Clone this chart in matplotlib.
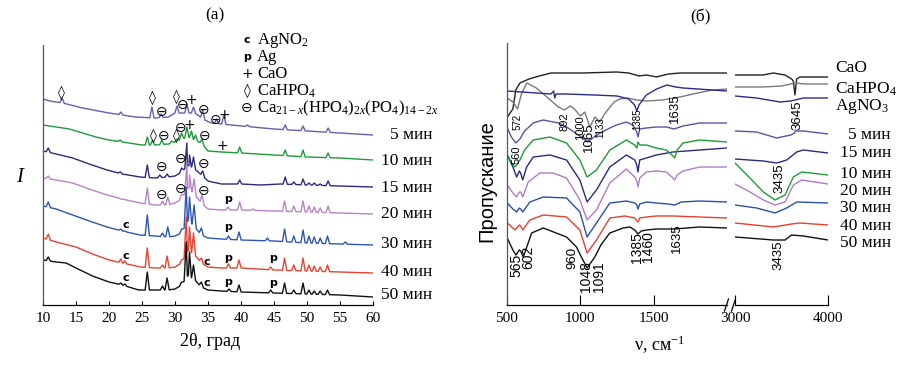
import numpy as np
import matplotlib
matplotlib.use('Agg')
import matplotlib.pyplot as plt
from matplotlib.lines import Line2D

plt.rcParams['font.family'] = ['Liberation Serif', 'DejaVu Sans']
plt.rcParams['mathtext.fontset'] = 'custom'
plt.rcParams['mathtext.rm'] = 'Liberation Serif'
plt.rcParams['mathtext.it'] = 'Liberation Serif:italic'
plt.rcParams['axes.linewidth'] = 0.9

W, H = 909, 365

# ---------------- (a) XRD data: baseline knots (2theta, I) and peak apexes (2theta, I)
xrd_labels = ['5 мин', '10 мин', '15 мин', '20 мин', '30 мин', '40 мин', '50 мин']
xrd_colors = ['#6a5cb0', '#1e9a3c', '#2b2a7e', '#b784c4', '#2e55b4', '#e8432f', '#111111']

base_5 = [(10, 206), (11, 204), (13, 202), (16, 197), (20, 192), (24, 188), (27, 187), (29, 188),
          (30, 192), (33, 192), (34.5, 185), (35.5, 182), (38.5, 180), (45, 176), (50, 174), (55, 172), (60, 170)]
peaks_5 = [(12.9, 207), (21.8, 193), (26.5, 198), (27.9, 191), (30.3, 199), (31.8, 201), (32.8, 198),
           (34.2, 195), (36.3, 186), (37.4, 190), (41.0, 180), (46.7, 180), (49.4, 179), (53.2, 177)]

base_10 = [(10, 180), (12, 178), (14, 176), (16, 172), (18, 168), (20, 165), (22, 163), (24, 161), (25, 160),
           (27, 160), (29, 161), (30, 163), (31, 166), (32, 168), (33, 165), (34, 162), (35, 154), (37, 153),
           (40, 152), (45, 150), (50, 148), (55, 147), (60, 145)]
peaks_10 = [(21.7, 165), (25.8, 168), (26.6, 165), (28.0, 165), (29.5, 164), (30.3, 166), (31.0, 172),
            (31.8, 178), (32.5, 174), (33.1, 170), (34.1, 166), (39.8, 158), (46.7, 155), (49.4, 155), (53.2, 152)]

base_15 = [(10, 154), (12, 151), (14.5, 147), (17, 141), (19.7, 135), (22, 131), (24.7, 128), (27, 127),
           (29, 128), (30, 129), (31, 133), (32, 140), (33, 136), (34, 130), (35, 124), (37, 121), (40, 121),
           (43, 120), (46, 121), (50, 120), (55, 119), (60, 118)]
peaks_15 = [(10.8, 157), (21.7, 133), (25.8, 140), (27.7, 130), (28.8, 131), (31.0, 137), (31.8, 162),
            (32.2, 150), (32.8, 148), (34.2, 134), (39.8, 125), (46.7, 128), (48.0, 123), (49.4, 126),
            (50.3, 122), (51.1, 122), (52.0, 121), (53.2, 124)]

base_20 = [(10, 127), (12, 125), (14.5, 122), (17, 116), (19.7, 110), (22, 106), (24.7, 102), (27, 100),
           (29, 100), (30, 102), (31, 106), (32, 118), (33, 110), (34, 102), (35, 96), (37, 95), (40, 95),
           (45, 94), (50, 93), (55, 92), (60, 91)]
peaks_20 = [(10.8, 129), (21.8, 106), (25.8, 117), (28.1, 104), (28.9, 108), (31.0, 111), (31.8, 142),
            (32.2, 130), (32.9, 126), (34.1, 110), (38.0, 98), (39.8, 103), (41.8, 96), (46.6, 104),
            (48.0, 99), (49.4, 104), (50.3, 99), (51.1, 98), (52.0, 97), (53.2, 99)]

base_30 = [(10, 99), (12, 96), (14.5, 90), (17, 84), (19.7, 78), (22, 74), (24.7, 70), (27, 69), (29, 68),
           (30, 69), (31, 72), (32, 85), (33, 78), (34, 70), (35, 67), (37, 66), (40, 65), (45, 64), (50, 62),
           (55, 61), (60, 60)]
peaks_30 = [(10.8, 103), (21.8, 76), (22.4, 74), (25.8, 90), (28.1, 72), (28.9, 78), (31.0, 76), (31.7, 118),
            (32.2, 108), (32.9, 100), (34.0, 77), (38.1, 69), (39.7, 73), (44.0, 67), (46.6, 76), (48.0, 69),
            (49.4, 75), (50.3, 69), (51.1, 68), (52.0, 67), (53.1, 69), (55.8, 63)]

base_40 = [(10, 67), (12, 63), (15, 58), (17.5, 51), (20, 45), (22, 42), (24.8, 38), (27, 37), (29, 37),
           (30, 38), (31, 42), (32, 55), (33, 50), (34, 42), (35, 38), (37, 37), (40, 37), (45, 35), (50, 34),
           (55, 33), (60, 32)]
peaks_40 = [(10.8, 71), (21.8, 46), (22.4, 44), (25.8, 57), (28.1, 40), (28.8, 49), (31.0, 45), (31.7, 88),
            (32.2, 78), (32.8, 72), (34.0, 47), (38.1, 41), (39.7, 45), (44.5, 38), (46.6, 47), (48.0, 40),
            (49.4, 47), (50.3, 40), (51.1, 39), (52.0, 38), (53.1, 40)]

base_50 = [(10, 45), (12, 43), (13.5, 42), (15, 37), (17.5, 29), (20, 23), (22, 20), (24.5, 15), (27, 15),
           (29, 15), (30, 16), (31, 20), (32, 30), (33, 25), (34, 18), (35, 15), (37, 14), (40, 13), (45, 12),
           (50, 11), (55, 10), (60, 8)]
peaks_50 = [(10.8, 48), (21.8, 22), (22.4, 21), (25.8, 33), (28.1, 19), (28.8, 27), (31.0, 23), (31.7, 63),
            (32.2, 53), (32.8, 40), (34.0, 23), (38.2, 16), (39.7, 20), (44.5, 15), (46.6, 22), (48.0, 15),
            (49.4, 22), (50.3, 15), (51.1, 14), (52.0, 14), (53.1, 15)]

xrd_sets = [(base_5, peaks_5), (base_10, peaks_10), (base_15, peaks_15), (base_20, peaks_20),
            (base_30, peaks_30), (base_40, peaks_40), (base_50, peaks_50)]

# phase marks on the XRD patterns: (symbol, 2theta, I)
xrd_marks = [('◊', 12.8, 212), ('◊', 26.5, 207), ('⊖', 28.0, 193), ('◊', 30.2, 208), ('⊖', 31.1, 200),
             ('+', 32.4, 205), ('⊖', 34.4, 195), ('⊖', 36.2, 185), ('+', 37.4, 190),
             ('◊', 26.7, 169), ('⊖', 28.2, 169), ('◊', 30.2, 169), ('⊖', 30.9, 177), ('+', 32.2, 180),
             ('⊖', 34.5, 169), ('+', 37.2, 159),
             ('⊖', 27.9, 138), ('⊖', 30.8, 146), ('⊖', 34.4, 141),
             ('⊖', 28.0, 110), ('⊖', 30.8, 116), ('⊖', 34.3, 114), ('p', 38.0, 106),
             ('c', 22.6, 80), ('p', 38.0, 78),
             ('c', 22.6, 49), ('c', 34.8, 43), ('p', 38.0, 47), ('p', 44.9, 47),
             ('c', 22.6, 27), ('c', 34.8, 22), ('p', 38.0, 23), ('p', 44.8, 22)]

legend_syms = ['c', 'p', '+', '◊', '⊖']
legend_names = ['AgNO$_2$', 'Ag', 'CaO', 'CaHPO$_4$', 'Ca$_{21-x}$(HPO$_4$)$_{2x}$(PO$_4$)$_{14-2x}$']

# ---------------- (б) IR data: (wavenumber, transmission)
ir_labels = ['CaO', 'CaHPO$_4$', 'AgNO$_3$', '5 мин', '15 мин', '10 мин', '20 мин', '30 мин', '40 мин', '50 мин']
ir_colors = ['#222222', '#7a7a7a', '#2b2b8c', '#5a52a8', '#2a2a80', '#1f9a3a', '#b07cc4', '#2a4fb0',
             '#e8402e', '#111111']

cao_lo = [(502, 188), (540, 196), (560, 215), (588, 222), (650, 226), (720, 229), (800, 232), (1017, 232),
          (1248, 233), (1330, 232), (1400, 229), (1450, 230), (1520, 228), (1600, 231), (1680, 232), (2000, 232)]
cao_hi = [(3000, 230), (3300, 230), (3412, 232), (3538, 230), (3609, 226), (3627, 224), (3645, 210),
          (3663, 226), (3699, 228), (3800, 228), (4000, 228)]
cahpo_lo = [(502, 207), (540, 203), (572, 196), (600, 212), (636, 222), (700, 217), (772, 208), (850, 198),
            (892, 195), (930, 199), (960, 196), (1000, 189), (1030, 193), (1065, 178), (1100, 188),
            (1133, 183), (1170, 192), (1230, 203), (1270, 206), (1320, 207), (1385, 205), (1450, 204),
            (1560, 205), (1680, 208), (1800, 212), (1900, 215), (2000, 216)]
cahpo_hi = [(3000, 218), (3300, 218), (3500, 219), (3650, 222), (3750, 221), (4000, 221)]
agno_lo = [(502, 214), (600, 213), (800, 211), (818, 214), (826, 207), (834, 211), (900, 211), (1100, 210),
           (1250, 209), (1330, 206), (1370, 200), (1385, 194), (1400, 200), (1450, 210), (1520, 216),
           (1590, 220), (1650, 218), (1700, 217), (1800, 216), (2000, 214)]
agno_hi = [(3000, 209), (3233, 207), (3484, 203), (3600, 204), (3735, 207), (4000, 207)]
m5_lo = [(502, 177), (530, 168), (560, 162), (588, 166), (620, 174), (679, 182), (747, 185), (850, 182),
         (906, 178), (997, 169), (1050, 163), (1110, 170), (1201, 177), (1246, 180), (1314, 183), (1359, 180),
         (1385, 173), (1393, 168), (1405, 176), (1450, 177), (1520, 178), (1586, 178), (1640, 176),
         (1700, 179), (1813, 182), (2000, 182)]
m5_hi = [(3000, 174), (3233, 173), (3448, 167), (3600, 170), (3640, 172), (3650, 175), (3663, 174),
         (3735, 174), (4000, 171)]
m15_lo = [(502, 150), (540, 138), (566, 128), (584, 134), (593, 132), (607, 125), (634, 138), (679, 148),
          (793, 150), (906, 145), (997, 125), (1046, 103), (1110, 115), (1201, 138), (1314, 150), (1371, 145),
          (1385, 140), (1393, 133), (1405, 145), (1450, 147), (1518, 150), (1631, 153), (1813, 155), (2000, 157)]
m15_hi = [(3000, 146), (3305, 144), (3448, 142), (3556, 145), (3663, 153), (3735, 155), (4000, 152)]
m10_lo = [(502, 150), (530, 142), (554, 138), (588, 145), (620, 155), (679, 165), (793, 168), (906, 162),
          (997, 145), (1046, 128), (1110, 135), (1201, 155), (1314, 165), (1371, 160), (1385, 157),
          (1393, 163), (1405, 160), (1450, 160), (1518, 157), (1586, 155), (1625, 150), (1643, 147),
          (1660, 155), (1700, 162), (1813, 165), (2000, 163)]
m10_hi = [(3000, 142), (3161, 127), (3305, 113), (3430, 105), (3538, 110), (3627, 128), (3717, 133), (4000, 130)]
m20_lo = [(502, 120), (540, 112), (566, 108), (584, 113), (593, 113), (607, 108), (645, 123), (724, 132),
          (815, 132), (906, 127), (997, 105), (1046, 85), (1110, 95), (1201, 122), (1314, 136), (1371, 128),
          (1385, 124), (1393, 118), (1405, 127), (1450, 133), (1518, 134), (1586, 133), (1625, 128),
          (1643, 125), (1660, 130), (1700, 134), (1813, 138), (2000, 138)]
m20_hi = [(3000, 121), (3161, 113), (3305, 105), (3430, 100), (3538, 103), (3627, 120), (3717, 125), (4000, 121)]
m30_lo = [(502, 102), (540, 96), (566, 93), (584, 97), (593, 96), (607, 93), (656, 103), (747, 108),
          (906, 107), (997, 93), (1046, 68), (1110, 82), (1201, 102), (1314, 104), (1371, 102), (1385, 100),
          (1393, 96), (1405, 101), (1450, 103), (1518, 102), (1600, 101), (1643, 100), (1688, 103),
          (1813, 104), (2000, 103)]
m30_hi = [(3000, 100), (3233, 97), (3430, 92), (3556, 97), (3663, 103), (4000, 102)]
m40_lo = [(502, 82), (540, 77), (554, 75), (584, 80), (593, 79), (607, 75), (656, 85), (747, 90), (906, 88),
          (997, 75), (1046, 52), (1110, 65), (1201, 87), (1303, 89), (1371, 87), (1393, 83), (1405, 87),
          (1450, 88), (1518, 89), (1631, 89), (1813, 88), (2000, 87)]
m40_hi = [(3000, 82), (3412, 78), (3609, 81), (3699, 82), (4000, 80)]
m50_lo = [(502, 67), (540, 55), (561, 50), (584, 55), (593, 54), (611, 48), (668, 72), (747, 77), (906, 68),
          (974, 58), (1000, 50), (1046, 37), (1070, 42), (1099, 48), (1140, 60), (1201, 72), (1291, 77),
          (1337, 78), (1371, 75), (1393, 71), (1416, 74), (1450, 75), (1518, 76), (1643, 76), (1813, 78),
          (2000, 77)]
m50_hi = [(3000, 68), (3412, 65), (3538, 65), (3609, 70), (3735, 69), (4000, 65)]

ir_sets = [(cao_lo, cao_hi), (cahpo_lo, cahpo_hi), (agno_lo, agno_hi), (m5_lo, m5_hi), (m15_lo, m15_hi),
           (m10_lo, m10_hi), (m20_lo, m20_hi), (m30_lo, m30_hi), (m40_lo, m40_hi), (m50_lo, m50_hi)]

# band labels: (text, x px, y px, fontsize)
ir_bands = [('572', 518, 122, 7), ('892', 565, 122, 8), ('1000', 580, 128, 8), ('1065', 589, 137, 9.5),
            ('1133', 600, 128, 7), ('1385', 637, 119, 7), ('1635', 675, 108, 9.5), ('560', 517, 155, 8),
            ('565', 516, 265, 10), ('602', 528, 257, 10), ('960', 572, 258, 9.5), ('1048', 586, 277, 10),
            ('1091', 599, 277, 10), ('1385', 637, 248, 10), ('1460', 648, 247, 10), ('1635', 677, 238, 9.5),
            ('3645', 797, 115, 9.5), ('3435', 779, 178, 9.5), ('3435', 778, 255, 9.5)]


def px(x, y):
    return x / W, 1 - y / H


def xrd_line(base, peaks, w=0.32):
    bx, by = np.array(base, dtype=float).T
    keep = np.ones(len(bx), bool)
    for p, _ in peaks:
        keep &= np.abs(bx - p) > w
    xs, ys = list(bx[keep]), list(by[keep])
    for p, h in peaks:
        for x in (p - w, p + w):
            xs.append(x)
            ys.append(np.interp(x, bx, by))
        xs.append(p)
        ys.append(h)
    order = np.argsort(xs)
    return np.array(xs)[order], np.array(ys)[order]


def mark(x, y, s, transform=None):
    kw = dict(ha='center', va='center', family='DejaVu Sans')
    if s in 'cp':
        kw.update(fontsize=8, fontweight='bold')
    else:
        kw.update(fontsize=10)
    if transform is None:
        fig.text(x, y, s, **kw)
    else:
        ax1.text(x, y, s, **kw)


fig = plt.figure(figsize=(W / 100, H / 100), dpi=100)

# ---------------- panel (a)
ax1 = fig.add_axes([43 / W, 60 / H, 330 / W, 260 / H])
for (base, peaks), c in zip(xrd_sets, xrd_colors):
    x, y = xrd_line(base, peaks)
    ax1.plot(x, y, color=c, lw=1.0)
for s, x, y in xrd_marks:
    mark(x, y, s, transform=ax1.transData)
ax1.set_xlim(10, 60)
ax1.set_ylim(0, 260)
ax1.set_yticks([])
ax1.set_xticks(range(10, 61, 5))
ax1.tick_params(axis='x', direction='in', length=3, labelsize=11, pad=5)
for side in ('top', 'right'):
    ax1.spines[side].set_visible(False)
ax1.spines['left'].set_color('#555555')

xrd_label_y = [135, 161, 188, 214, 244, 272, 295]
for lab, yy in zip(xrd_labels, xrd_label_y):
    fig.text(*px(432, yy), lab, ha='right', va='center', fontsize=12.5)

legend_y = [40, 57, 74, 91, 108]
for s, name, yy in zip(legend_syms, legend_names, legend_y):
    mark(*px(247, yy), s)
    fig.text(*px(257, yy), name, ha='left', va='center', fontsize=12)

fig.text(*px(215, 15), '(a)', ha='center', va='center', fontsize=12.5)
fig.text(*px(21, 178), '$I$', ha='center', va='center', fontsize=15)
fig.text(*px(210, 342), '2θ, град', ha='center', va='center', fontsize=13)

# ---------------- panel (б)
axl = fig.add_axes([507 / W, 60 / H, 220 / W, 262 / H])
axr = fig.add_axes([735 / W, 60 / H, 93 / W, 262 / H])
for (lo, hi), c in zip(ir_sets, ir_colors):
    xl, yl = np.array(lo).T
    xh, yh = np.array(hi).T
    axl.plot(xl, yl, color=c, lw=1.0)
    axr.plot(xh, yh, color=c, lw=1.0)
axl.set_xlim(500, 2000)
axr.set_xlim(3000, 4000)
for a in (axl, axr):
    a.set_ylim(0, 262)
    a.set_yticks([])
    a.tick_params(axis='x', direction='in', length=7, labelsize=11, pad=5)
    for side in ('top', 'right'):
        a.spines[side].set_visible(False)
axr.spines['left'].set_visible(False)
axl.spines['left'].set_color('#555555')
axl.set_xticks([500, 1000, 1500])
axr.set_xticks([3000, 4000])

# axis break marks
for bx in (726.5, 733.5):
    fig.add_artist(Line2D([(bx - 2) / W, (bx + 2) / W], [1 - 311 / H, 1 - 299 / H],
                          transform=fig.transFigure, color='black', lw=0.9))

for s, x, y, fs in ir_bands:
    fig.text(*px(x, y), s, ha='center', va='center', rotation=90, fontsize=fs, family='Liberation Sans')

ir_label_pos = [(835, 68, 'left'), (835, 89, 'left'), (835, 107, 'left'), (891, 135, 'right'),
                (891, 153, 'right'), (891, 174, 'right'), (891, 191, 'right'), (891, 208, 'right'),
                (891, 226, 'right'), (891, 243, 'right')]
for lab, (x, y, ha) in zip(ir_labels, ir_label_pos):
    fig.text(*px(x, y), lab, ha=ha, va='center', fontsize=12.5)

fig.text(*px(700, 17), '(б)', ha='center', va='center', fontsize=12.5)
fig.text(*px(487, 181), 'Пропускание', ha='center', va='center', rotation=90, fontsize=14.5,
         family='Liberation Sans')
fig.text(*px(660, 345), 'ν, см$^{-1}$', ha='center', va='center', fontsize=13)

fig.savefig('out.png', dpi=100)
